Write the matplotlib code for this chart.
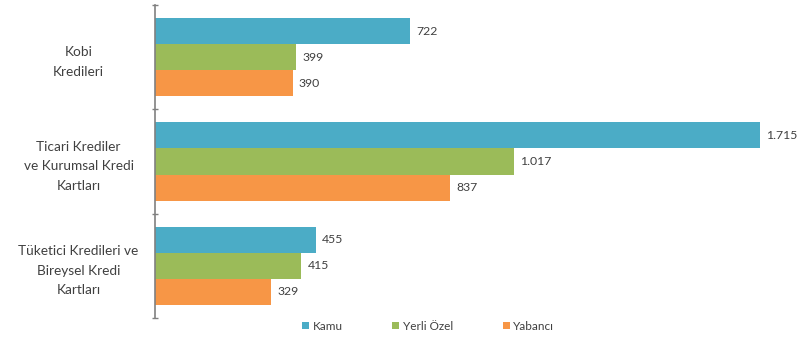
import numpy as np
import matplotlib
matplotlib.use("Agg")
import matplotlib.pyplot as plt

plt.rcParams['font.family'] = ['Lato', 'DejaVu Sans']

categories = ["Kobi\nKredileri",
              "Ticari Krediler\nve Kurumsal Kredi\nKartları",
              "Tüketici Kredileri ve\nBireysel Kredi\nKartları"]
series = ["Kamu", "Yerli Özel", "Yabancı"]
kamu = [722, 1715, 455]
yerli = [399, 1017, 415]
yabanci = [390, 837, 329]
colors = ["#4BACC6", "#9BBB59", "#F79646"]


def tr_fmt(v):
    # turkish thousands separator
    return f"{v:,}".replace(",", ".")


fig = plt.figure(figsize=(8.05, 3.42), dpi=100)
ax = fig.add_axes([155 / 805, 24 / 342, 635 / 805, 313 / 342])

y = np.arange(len(categories))
h = 0.25
for i, (name, vals) in enumerate(zip(series, [kamu, yerli, yabanci])):
    pos = y + (i - 1) * h
    ax.barh(pos, vals, height=h, color=colors[i], label=name)
    for p, v in zip(pos, vals):
        ax.text(v + 18, p, tr_fmt(v), va="center", ha="left",
                fontsize=8.8, color="#404040")

ax.set_ylim(2.5, -0.5)
ax.set_xlim(0, 1800)

ax.set_yticks(y)
ax.set_yticklabels(categories, fontsize=9.8, color="#404040",
                   ha="center", multialignment="center", linespacing=1.75)
ax.tick_params(axis="y", length=0, pad=55)
ax.set_yticks([-0.5, 0.5, 1.5, 2.5], minor=True)
ax.tick_params(axis="y", which="minor", length=5, direction="inout",
               color="#808080", width=1)

ax.set_xticks([])
for s in ["top", "right", "bottom"]:
    ax.spines[s].set_visible(False)
ax.spines["left"].set_color("#808080")
ax.spines["left"].set_linewidth(1.2)

fig.legend(loc="center", bbox_to_anchor=(428 / 805, 1 - 326 / 342), ncol=3,
           frameon=False, fontsize=8.5, handlelength=0.6, handleheight=0.6,
           handletextpad=0.3, columnspacing=4.2, labelcolor="#404040")

fig.savefig("out.png", dpi=100)
